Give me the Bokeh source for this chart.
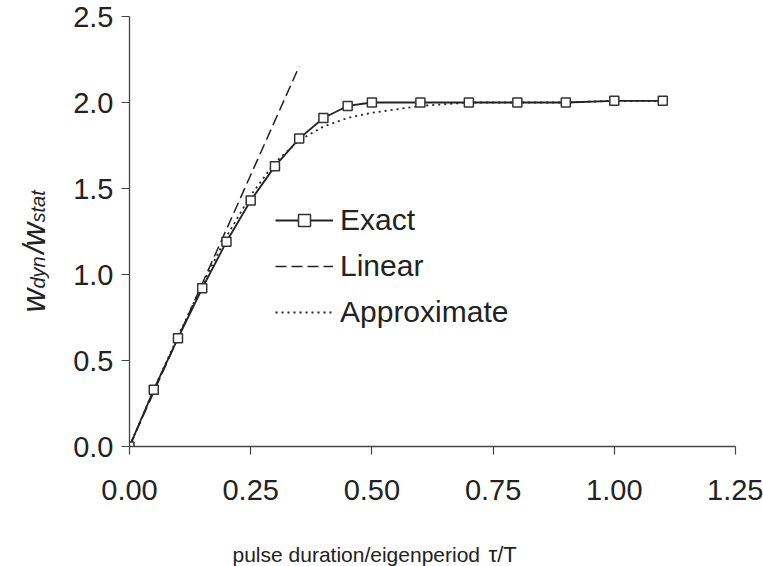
import math
from bokeh.plotting import figure
from bokeh.layouts import row, column
from bokeh.models import Range1d, FixedTicker, NumeralTickFormatter, Label, Legend, LegendItem
from bokeh.embed import file_html
from bokeh.resources import INLINE

# ---- data ----
tau = [0.0, 0.05, 0.10, 0.15, 0.20, 0.25, 0.30, 0.35, 0.40, 0.45, 0.50,
       0.60, 0.70, 0.80, 0.90, 1.00, 1.10]
exact = [0.0, 0.33, 0.63, 0.92, 1.19, 1.43, 1.63, 1.79, 1.91, 1.98, 2.00,
         2.00, 2.00, 2.00, 2.00, 2.01, 2.01]

lin_tau = [0.0, 0.35]
lin_w = [0.0, 2.21]

approx_tau = [0.0, 0.05, 0.10, 0.15, 0.20, 0.25, 0.30, 0.35, 0.40, 0.45, 0.50,
              0.55, 0.60, 0.65, 0.70, 0.80, 0.90, 1.00, 1.10]
approx_w = [0.0, 0.33, 0.64, 0.94, 1.22, 1.46, 1.65, 1.78, 1.86, 1.91, 1.94,
            1.96, 1.98, 1.99, 2.00, 2.00, 2.00, 2.01, 2.01]

x_ticks = [0.0, 0.25, 0.50, 0.75, 1.00, 1.25]
y_ticks = [0.0, 0.5, 1.0, 1.5, 2.0, 2.5]

FONT = "Liberation Sans"
INK = "#222222"

W, H = 763, 566
LW = 62          # width of the strip holding the y-axis title
BH = 46          # height of the strip holding the x-axis title
FL, FB = 129, 446  # frame left / bottom in page pixels

# ---- main plot ----
p = figure(width=W - LW, height=H - BH, output_backend="svg", toolbar_location=None,
           x_range=Range1d(0, 1.25), y_range=Range1d(0, 2.5),
           min_border_left=FL - LW, min_border_right=28,
           min_border_top=16, min_border_bottom=(H - BH) - FB)
p.background_fill_color = "white"
p.border_fill_color = "white"
p.outline_line_color = None
p.grid.visible = False

p.xaxis.ticker = FixedTicker(ticks=x_ticks)
p.xaxis.formatter = NumeralTickFormatter(format="0.00")
p.yaxis.ticker = FixedTicker(ticks=y_ticks)
p.yaxis.formatter = NumeralTickFormatter(format="0.0")
for ax in (p.xaxis, p.yaxis):
    ax.axis_line_color = "#444444"
    ax.axis_line_width = 1.3
    ax.major_tick_line_color = "#444444"
    ax.major_tick_line_width = 1.2
    ax.major_tick_out = 8
    ax.major_tick_in = 0
    ax.minor_tick_line_color = None
    ax.major_label_text_font = FONT
    ax.major_label_text_font_size = "29px"
    ax.major_label_text_color = INK
p.xaxis.major_label_standoff = 25
p.yaxis.major_label_standoff = 8

r_lin = p.line(lin_tau, lin_w, line_color=INK, line_width=1.5, line_dash="11 5")
r_app = p.line(approx_tau, approx_w, line_color=INK, line_width=1.8, line_dash="2 4")
r_exact = p.line(tau, exact, line_color=INK, line_width=1.8)
r_sq = p.scatter(tau, exact, marker="square", size=9, fill_color="white",
                 line_color="#333333", line_width=1.5)

legend = Legend(items=[LegendItem(label="Exact", renderers=[r_exact, r_sq]),
                       LegendItem(label="Linear", renderers=[r_lin]),
                       LegendItem(label="Approximate", renderers=[r_app])],
                location=(146, 117))
legend.background_fill_alpha = 0
legend.border_line_color = None
legend.padding = 0
legend.margin = 0
legend.spacing = 12
legend.glyph_width = 58
legend.glyph_height = 30
legend.label_height = 30
legend.label_standoff = 7
legend.label_text_font = FONT
legend.label_text_font_size = "30px"
legend.label_text_color = INK
p.add_layout(legend)


def strip(w, h):
    f = figure(width=w, height=h, output_backend="svg", toolbar_location=None,
               x_range=Range1d(0, w), y_range=Range1d(0, h),
               x_axis_location=None, y_axis_location=None,
               min_border=0, min_border_left=0, min_border_right=0,
               min_border_top=0, min_border_bottom=0)
    f.background_fill_color = "white"
    f.border_fill_color = "white"
    f.outline_line_color = None
    f.grid.visible = False
    return f


def lab(f, text, x, y, size, angle=0.0, italic=False):
    f.add_layout(Label(x=x, y=y, x_units="screen", y_units="screen",
                       text=text, angle=angle, text_font=FONT,
                       text_font_size=size,
                       text_font_style="italic" if italic else "normal",
                       text_color=INK, text_align="left",
                       text_baseline="alphabetic"))

# ---- y-axis title strip (coordinates from its bottom-left corner) ----
ys = strip(LW, H)
R = math.pi / 2
lab(ys, "w", 33, H - 312, "33px", R, True)
lab(ys, "dyn", 37, H - 288, "20px", R, True)
lab(ys, "/", 33, H - 253, "30px", R, True)
lab(ys, "w", 33, H - 246, "33px", R, True)
lab(ys, "stat", 37, H - 222, "20px", R, True)

# ---- x-axis title strip (its frame lines up with the main frame, left = FL) ----
xs = strip(W - LW, BH)
lab(xs, "pulse duration/eigenperiod", 232 - FL, H - 554, "21px")
lab(xs, "\u03c4/T", 488 - FL, H - 554, "22px")

layout = row(ys, column(p, xs))
open("out.html", "w").write(file_html(layout, INLINE))
